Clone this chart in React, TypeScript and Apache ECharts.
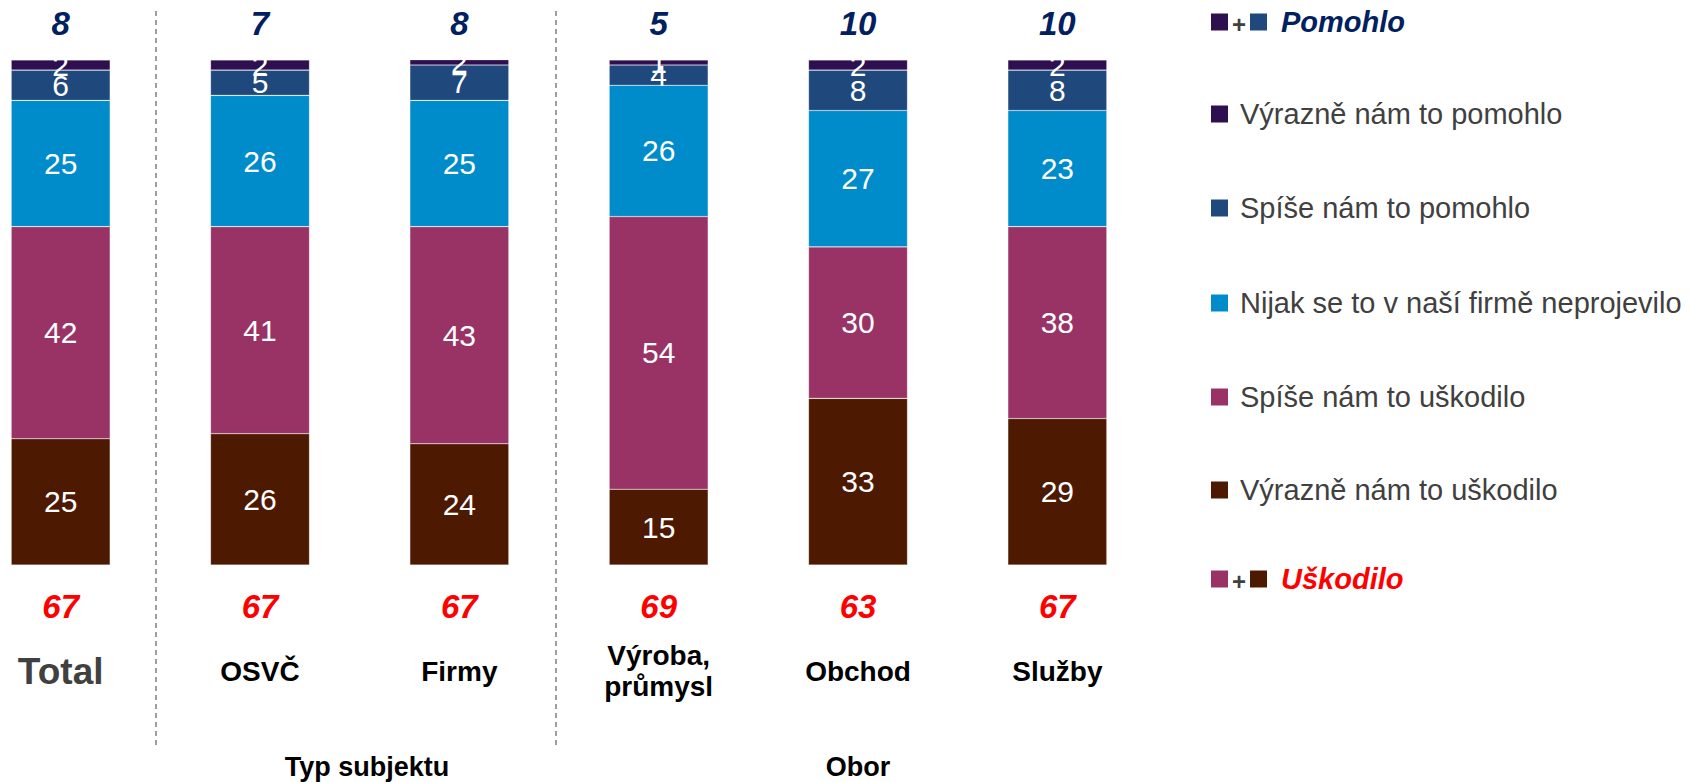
import React, { useEffect, useRef } from "react";
import * as echarts from "echarts";

const categories = ["Total", "OSVČ", "Firmy", "Výroba,\nprůmysl", "Obchod", "Služby"];
const seriesNames = [
  "Výrazně nám to uškodilo",
  "Spíše nám to uškodilo",
  "Nijak se to v naší firmě neprojevilo",
  "Spíše nám to pomohlo",
  "Výrazně nám to pomohlo",
];
const vyrazneUskodilo = [25, 26, 24, 15, 33, 29];
const spiseUskodilo = [42, 41, 43, 54, 30, 38];
const nijak = [25, 26, 25, 26, 27, 23];
const spisePomohlo = [6, 5, 7, 4, 8, 8];
const vyraznePomohlo = [2, 2, 2, 1, 2, 2];
const pomohloTotals = [8, 7, 8, 5, 10, 10];
const uskodiloTotals = [67, 67, 67, 69, 63, 67];
const groupLabels = ["Typ subjektu", "Obor"];
const netLabels = ["Pomohlo", "Uškodilo"];

const colors = ["#4D1900", "#993366", "#008BCB", "#1F497D", "#2E0F4F"];
const FONT = '"Liberation Sans", Arial, sans-serif';

export default function App() {
  const ref = useRef<HTMLDivElement>(null);

  useEffect(() => {
    if (!ref.current) return;
    const chart = echarts.init(ref.current, undefined, { renderer: "svg" });
    const seriesData = [vyrazneUskodilo, spiseUskodilo, nijak, spisePomohlo, vyraznePomohlo];

    const barSeries = seriesData.map((d, si) => ({
      name: seriesNames[si],
      type: "bar",
      stack: "total",
      barWidth: 99,
      data: d,
      itemStyle: { color: colors[si], borderColor: "rgba(255,255,255,0.35)", borderWidth: 0.6 },
      label: {
        show: true,
        position: "inside",
        color: "#ffffff",
        fontSize: 30,
        fontFamily: FONT,
      },
      emphasis: { disabled: true },
    }));

    const totalSeries = (vals: number[], top: boolean, color: string) => ({
      type: "custom",
      silent: true,
      z: 10,
      data: vals.map((v, i) => [i, v]),
      renderItem: (_p: any, api: any) => {
        const pt = api.coord([api.value(0), top ? 100 : 0]);
        return {
          type: "text",
          x: pt[0],
          y: top ? pt[1] - 37 : pt[1] + 41,
          style: {
            text: String(api.value(1)),
            fill: color,
            font: `italic bold 33px ${FONT}`,
            align: "center",
            verticalAlign: "middle",
          },
        };
      },
    });

    const legendRows = [114, 208, 303, 397, 490];
    const legendGraphics: any[] = [];
    [4, 3, 2, 1, 0].forEach((si, r) => {
      const y = legendRows[r];
      legendGraphics.push({
        type: "rect",
        shape: { x: 1211, y: y - 8.5, width: 17, height: 17 },
        style: { fill: colors[si] },
      });
      legendGraphics.push({
        type: "text",
        x: 1240,
        y,
        style: {
          text: seriesNames[si],
          font: `29px ${FONT}`,
          fill: "#404040",
          verticalAlign: "middle",
        },
      });
    });
    const netRow = (y: number, c1: string, c2: string, label: string, color: string) => [
      { type: "rect", shape: { x: 1211, y: y - 8.5, width: 17, height: 17 }, style: { fill: c1 } },
      {
        type: "text",
        x: 1239,
        y: y + 2,
        style: { text: "+", font: `bold 24px ${FONT}`, fill: "#404040", align: "center", verticalAlign: "middle" },
      },
      { type: "rect", shape: { x: 1250, y: y - 8.5, width: 17, height: 17 }, style: { fill: c2 } },
      {
        type: "text",
        x: 1281,
        y,
        style: { text: label, font: `italic bold 29px ${FONT}`, fill: color, verticalAlign: "middle" },
      },
    ];

    const option: any = {
      animation: false,
      textStyle: { fontFamily: FONT },
      grid: {
        left: -39,
        top: 60,
        width: 1196,
        height: 505,
        outerBoundsMode: "none",
        containLabel: false,
      },
      xAxis: {
        type: "category",
        data: categories,
        axisLine: { show: false },
        axisTick: { show: false },
        splitLine: { show: false },
        axisLabel: {
          interval: 0,
          margin: 106,
          verticalAlign: "middle",
          fontSize: 28,
          fontWeight: "bold",
          color: "#000000",
          lineHeight: 31,
          fontFamily: FONT,
          formatter: (v: string, i: number) => (i === 0 ? `{t|${v}}` : v),
          rich: {
            t: { fontSize: 37, fontWeight: "bold", color: "#404040", fontFamily: FONT },
          },
        },
      },
      yAxis: { type: "value", min: 0, max: 100, show: false },
      series: [
        ...barSeries,
        totalSeries(pomohloTotals, true, "#002060"),
        totalSeries(uskodiloTotals, false, "#FF0000"),
      ],
      graphic: [
        {
          type: "line",
          shape: { x1: 156, y1: 11, x2: 156, y2: 745 },
          style: { stroke: "#7F7F7F", lineWidth: 1.5, lineDash: [5, 4] },
        },
        {
          type: "line",
          shape: { x1: 556, y1: 11, x2: 556, y2: 745 },
          style: { stroke: "#7F7F7F", lineWidth: 1.5, lineDash: [5, 4] },
        },
        {
          type: "text",
          x: 367,
          y: 767,
          style: { text: groupLabels[0], font: `bold 27px ${FONT}`, fill: "#000", align: "center", verticalAlign: "middle" },
        },
        {
          type: "text",
          x: 858,
          y: 767,
          style: { text: groupLabels[1], font: `bold 27px ${FONT}`, fill: "#000", align: "center", verticalAlign: "middle" },
        },
        ...netRow(22, colors[4], colors[3], netLabels[0], "#002060"),
        ...netRow(579, colors[1], colors[0], netLabels[1], "#FF0000"),
        ...legendGraphics,
      ],
    };
    chart.setOption(option);
    return () => chart.dispose();
  }, []);

  return (
    <div
      ref={ref}
      style={{ position: "fixed", left: 0, top: 0, width: 1690, height: 782, background: "#ffffff" }}
    />
  );
}
